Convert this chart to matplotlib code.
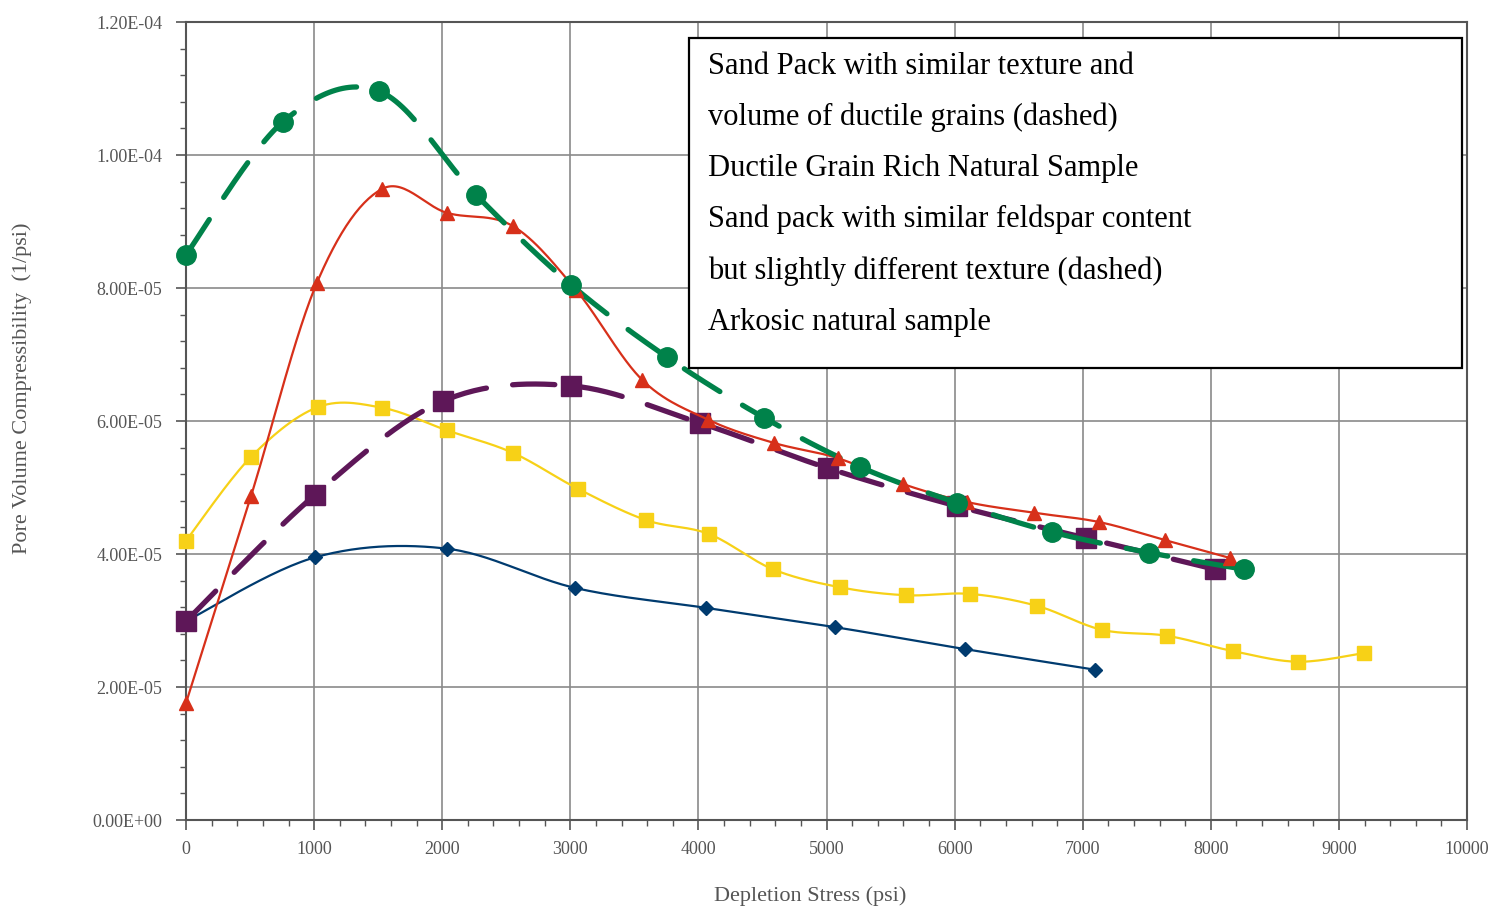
import numpy as np
import matplotlib
matplotlib.use("agg")
import matplotlib.pyplot as plt
from matplotlib.patches import Rectangle
from matplotlib.ticker import MultipleLocator

# depletion stress (psi) and pore volume compressibility (1/psi) per sample
arkosic_x = [0, 1007, 2037, 3037, 4059, 5066, 6081, 7096]
arkosic_y = [2.99e-5, 3.95e-5, 4.08e-5, 3.49e-5, 3.19e-5, 2.90e-5, 2.57e-5, 2.26e-5]

feldspar_x = [0, 507, 1030, 1530, 2037, 2553, 3060, 3591, 4083, 4582,
              5105, 5620, 6120, 6643, 7150, 7658, 8173, 8681, 9196]
feldspar_y = [4.20e-5, 5.46e-5, 6.21e-5, 6.20e-5, 5.86e-5, 5.52e-5, 4.98e-5, 4.51e-5,
              4.30e-5, 3.77e-5, 3.50e-5, 3.38e-5, 3.40e-5, 3.22e-5, 2.86e-5, 2.77e-5,
              2.54e-5, 2.38e-5, 2.51e-5]

ductile_x = [0, 507, 1022, 1530, 2037, 2553, 3045, 3560, 4075, 4590,
             5090, 5600, 6100, 6620, 7130, 7640, 8150]
ductile_y = [1.76e-5, 4.87e-5, 8.08e-5, 9.49e-5, 9.13e-5, 8.93e-5, 7.97e-5, 6.62e-5,
             6.02e-5, 5.67e-5, 5.44e-5, 5.05e-5, 4.78e-5, 4.62e-5, 4.48e-5, 4.21e-5,
             3.94e-5]

sandpack_tex_x = [0, 757, 1507, 2264, 3005, 3755, 4512, 5261, 6019, 6760, 7518, 8259]
sandpack_tex_y = [8.50e-5, 10.50e-5, 10.96e-5, 9.40e-5, 8.05e-5, 6.96e-5, 6.05e-5,
                  5.31e-5, 4.77e-5, 4.33e-5, 4.02e-5, 3.77e-5]

sandpack_fel_x = [0, 1007, 2006, 3005, 4012, 5012, 6019, 7026, 8033]
sandpack_fel_y = [2.99e-5, 4.89e-5, 6.30e-5, 6.53e-5, 5.97e-5, 5.29e-5, 4.72e-5,
                  4.24e-5, 3.77e-5]

legend_lines = [
    "Sand Pack with similar texture and",
    "volume of ductile grains (dashed)",
    "Ductile Grain Rich Natural Sample",
    "Sand pack with similar feldspar content",
    "but slightly different texture (dashed)",
    "Arkosic natural sample",
]


def smooth(x, y, n=30):
    # Catmull-Rom curve through the points, like a spreadsheet "smoothed line"
    x = np.asarray(x, float)
    y = np.asarray(y, float)
    px = np.concatenate([[x[0]], x, [x[-1]]])
    py = np.concatenate([[y[0]], y, [y[-1]]])
    xs, ys = [], []
    t = np.linspace(0, 1, n)
    h00 = 2 * t**3 - 3 * t**2 + 1
    h10 = t**3 - 2 * t**2 + t
    h01 = -2 * t**3 + 3 * t**2
    h11 = t**3 - t**2
    for i in range(1, len(px) - 2):
        for p, out in ((px, xs), (py, ys)):
            p0, p1, p2, p3 = p[i - 1], p[i], p[i + 1], p[i + 2]
            m1 = (p2 - p0) / 2
            m2 = (p3 - p1) / 2
            out.extend(h00 * p1 + h10 * m1 + h01 * p2 + h11 * m2)
    return np.array(xs), np.array(ys)


plt.rcParams["font.family"] = ["Liberation Serif", "DejaVu Serif"]

fig = plt.figure(figsize=(14.99, 9.10), dpi=100)
ax = fig.add_axes([0.1241, 0.0989, 0.8546, 0.8769])

navy = "#003b6f"
yellow = "#f7d117"
red = "#d7301a"
green = "#00824a"
purple = "#5e1758"

sx, sy = smooth(arkosic_x, arkosic_y)
ax.plot(sx, sy, color=navy, lw=1.6, zorder=3)
ax.plot(arkosic_x, arkosic_y, "D", color=navy, ms=7.5, zorder=4, clip_on=False)

sx, sy = smooth(feldspar_x, feldspar_y)
ax.plot(sx, sy, color=yellow, lw=1.6, zorder=3)
ax.plot(feldspar_x, feldspar_y, "s", color=yellow, ms=10, zorder=4, clip_on=False)

sx, sy = smooth(sandpack_fel_x, sandpack_fel_y)
ax.plot(sx, sy, color=purple, lw=3.8, dashes=(8, 5), dash_capstyle="round", zorder=3)
ax.plot(sandpack_fel_x, sandpack_fel_y, "s", color=purple, ms=14, zorder=4,
        clip_on=False)

sx, sy = smooth(ductile_x, ductile_y)
ax.plot(sx, sy, color=red, lw=1.6, zorder=5)
ax.plot(ductile_x, ductile_y, "^", color=red, ms=10, zorder=6, clip_on=False)

sx, sy = smooth(sandpack_tex_x, sandpack_tex_y)
ax.plot(sx, sy, color=green, lw=3.8, dashes=(8, 5), dash_capstyle="round", zorder=5)
ax.plot(sandpack_tex_x, sandpack_tex_y, "o", color=green, ms=14, zorder=6,
        clip_on=False)

ax.set_xlim(0, 10000)
ax.set_ylim(0, 1.2e-4)
ax.xaxis.set_major_locator(MultipleLocator(1000))
ax.xaxis.set_minor_locator(MultipleLocator(200))
ax.yaxis.set_major_locator(MultipleLocator(2e-5))
ax.yaxis.set_minor_locator(MultipleLocator(4e-6))
ax.yaxis.set_major_formatter(plt.FuncFormatter(lambda v, pos: "%.2E" % v))
ax.grid(True, which="major", color="#8a8a8a", lw=1.2, zorder=0)
ax.set_axisbelow(True)

for sp in ax.spines.values():
    sp.set_color("#555555")
    sp.set_linewidth(1.5)

ax.tick_params(which="both", direction="out", colors="#555555", labelcolor="#555555",
               labelsize=13)
ax.tick_params(which="major", length=7, width=1.2)
ax.tick_params(which="minor", length=4, width=1.0)
ax.tick_params(axis="x", which="major", pad=8)
ax.tick_params(axis="y", which="major", pad=10)

ax.set_xlabel("Depletion Stress (psi)", fontsize=16, color="#555555")
ax.set_ylabel("Pore Volume Compressibility  (1/psi)", fontsize=16, color="#555555")
ax.xaxis.set_label_coords(0.487, -0.095)
ax.yaxis.set_label_coords(-0.128, 0.541)
ax.xaxis.label.set_va("center")
ax.yaxis.label.set_va("center")

# text box describing the samples
fig.patches.append(Rectangle((689 / 1499, 1 - 368 / 910), 773 / 1499, 330 / 910,
                             transform=fig.transFigure, fill=True, facecolor="white",
                             edgecolor="black", lw=1.6, zorder=10))
for i, line in enumerate(legend_lines):
    fig.text(708 / 1499, 1 - (66 + 51.2 * i) / 910, line, fontsize=22,
             ha="left", va="center", color="black", zorder=11)

fig.savefig("out.png", dpi=100)
